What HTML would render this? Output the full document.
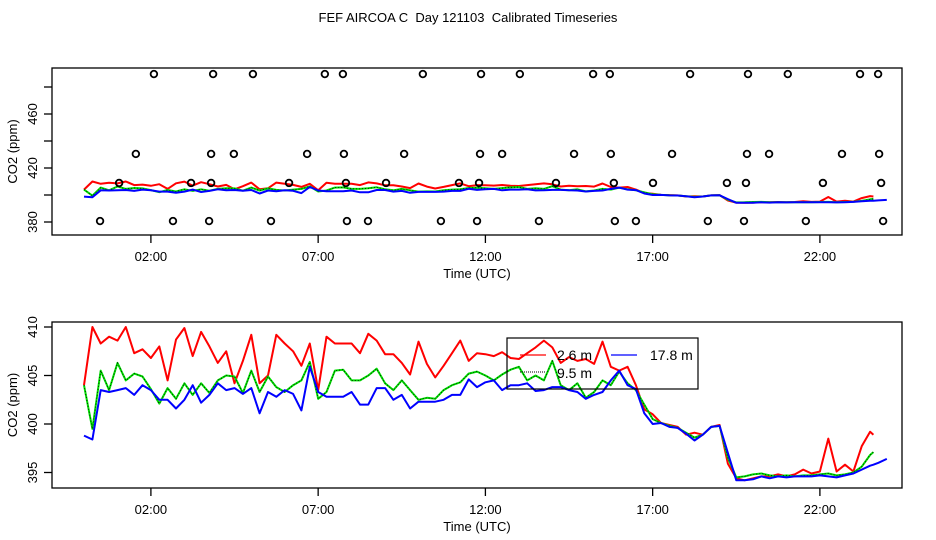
<!DOCTYPE html>
<html><head><meta charset="utf-8"><style>
html,body{margin:0;padding:0;background:#fff;}
svg{display:block;font-family:"Liberation Sans",sans-serif;}
</style></head><body>
<svg id="chart" width="936" height="540" viewBox="0 0 936 540">
<text x="468" y="22" text-anchor="middle" font-size="13" style="white-space:pre">FEF AIRCOA C  Day 121103  Calibrated Timeseries</text>
<g id="topPanel"></g>
<g id="botPanel"></g>
</svg>
<script>
const times = [0,0.25,0.5,0.75,1,1.25,1.5,1.75,2,2.25,2.5,2.75,3,3.25,3.5,3.75,4,4.25,4.5,4.75,5,5.25,5.5,5.75,6,6.25,6.5,6.75,7,7.25,7.5,7.75,8,8.25,8.5,8.75,9,9.25,9.5,9.75,10,10.25,10.5,10.75,11,11.25,11.5,11.75,12,12.25,12.5,12.75,13,13.25,13.5,13.75,14,14.25,14.5,14.75,15,15.25,15.5,15.75,16,16.25,16.5,16.75,17,17.25,17.5,17.75,18,18.25,18.5,18.75,19,19.25,19.5,19.75,20,20.25,20.5,20.75,21,21.25,21.5,21.75,22,22.25,22.5,22.75,23,23.25,23.5,23.6,23.75,24];
const red26 = [404,410,408.3,409,408.6,410,407.3,407.7,406.8,408,404.5,408.7,409.9,407,409.5,408,406.3,407.5,404.2,406.5,409.2,404.2,405,409.2,408.3,407.5,406,408.3,403.5,409,408.3,408.3,408.3,407.3,409.3,408.6,407.2,407.2,406.3,405.1,408.5,406.2,404.8,406,407.3,408.6,406.5,407.3,407.2,407,407.4,406.8,406.7,407.3,407.9,408.6,407.9,406.3,406.9,406.5,406.7,406.2,408.5,405.9,405.5,405.9,404,401.5,401,400.1,399.9,399.7,398.9,399.1,398.9,399.7,399.9,395.9,394.4,394.2,394.4,394.6,394.6,394.8,394.6,394.8,395.3,394.9,395.1,398.5,395.1,395.8,395.1,397.7,399.2,398.9,null,null];
const green95 = [404,399.5,405.5,403.5,406.3,404.5,405.2,404.9,403.6,402.1,403.7,402.6,404.2,403,404.2,403.2,404.5,405,404.9,403.2,405.5,403.3,404.9,403.8,403.3,404,404.5,406.4,402.6,403.3,405.5,405.6,404.5,404.5,405,405.7,404.2,403.5,404.5,403.5,402.5,402.7,402.6,403.5,404,404.3,405.2,405.4,405,404.5,405.1,405.6,405.9,404.5,405,404.5,406.5,404,403.5,404.2,402.7,403.3,404.5,404,405.4,404.2,403.5,402,400.5,400.1,399.8,399.6,399.1,398.6,398.9,399.7,399.8,396.5,394.5,394.6,394.8,394.9,394.7,394.6,394.7,394.6,394.7,394.7,394.8,394.9,394.7,394.8,395,395.6,396.8,397.1,null,null];
const blue178 = [398.8,398.4,403.5,403.3,403.5,403.7,403,404,403.5,402.5,402.5,401.6,402.5,404,402.2,403,404.2,403.5,403.7,403.1,403.7,401.1,403.3,402.8,403.5,403.1,401.4,405.9,403.3,402.8,402.8,402.8,403.3,402,402,403.7,403.7,402.5,403,401.6,402.3,402.3,402.3,402.5,403,403,404.6,403.8,404.3,404.5,403.5,404,404,404.2,403.4,403.5,403.8,403.8,403.5,403.3,402.6,403,403.3,404.5,405.5,404,403.6,401.1,400,400.1,399.7,399.6,399,398.3,398.9,399.7,399.8,397,394.2,394.2,394.3,394.6,394.4,394.6,394.5,394.6,394.6,394.6,394.7,394.6,394.5,394.7,394.9,395.3,395.7,395.8,396,396.4];
const outlierTimes = [2.09,3.86,5.05,7.20,7.74,10.13,11.87,13.03,15.22,15.72,18.12,19.85,21.04,23.20,23.74,1.55,3.80,4.48,6.67,7.77,9.57,11.84,12.50,14.65,15.75,17.58,19.82,20.48,22.66,23.77,1.05,3.20,3.80,6.13,7.83,9.03,11.21,11.81,14.11,15.84,17.01,19.22,19.79,22.09,23.83,0.48,2.66,3.74,5.59,7.86,8.49,10.67,11.75,13.60,15.87,16.50,18.65,19.73,21.58,23.89];
const outlierValues = [489.6,489.6,489.6,489.6,489.6,489.6,489.6,489.6,489.6,489.6,489.6,489.6,489.6,489.6,489.6,430.4,430.4,430.4,430.4,430.4,430.4,430.4,430.4,430.4,430.4,430.4,430.4,430.4,430.4,430.4,408.9,408.9,408.9,408.9,408.9,408.9,408.9,408.9,408.9,408.9,408.9,408.9,408.9,408.9,408.9,380.7,380.7,380.7,380.7,380.7,380.7,380.7,380.7,380.7,380.7,380.7,380.7,380.7,380.7,380.7];
const xTicks = [2,7,12,17,22];
const xTickLabels = ["02:00","07:00","12:00","17:00","22:00"];
const topYTicks = [380,400,420,440,460,480];
const topYLabels = ["380","","420","","460",""];
const botYTicks = [395,400,405,410];
const botYLabels = ["395","400","405","410"];

const NS="http://www.w3.org/2000/svg";
function mk(p,t,a){const e=document.createElementNS(NS,t);for(const k in a)e.setAttribute(k,a[k]);p.appendChild(e);return e;}
const xs = h => 84 + 33.45*h;

function panel(g, box, ys, yTicks, yLabels, nm){
  const fr = mk(g,'rect',{x:box.x0,y:box.y0,width:box.x1-box.x0,height:box.y1-box.y0,fill:'none',stroke:'#000','stroke-width':1.3});
  
  
  xTicks.forEach((t,i)=>{
    const x=xs(t);
    const l=mk(g,'line',{x1:x,x2:x,y1:box.y1,y2:box.y1+8,stroke:'#000','stroke-width':1.3});
    
    
    const tx=mk(g,'text',{x:x,y:box.y1+26,'text-anchor':'middle','font-size':13});
    tx.textContent=xTickLabels[i];
    
    
  });
  yTicks.forEach((t,i)=>{
    const y=ys(t);
    const l=mk(g,'line',{x1:box.x0-8,x2:box.x0,y1:y,y2:y,stroke:'#000','stroke-width':1.3});
    
    
    if(yLabels[i]){
      const tx=mk(g,'text',{x:0,y:0,'text-anchor':'middle','font-size':13,transform:`translate(${box.x0-15},${y}) rotate(-90)`});
      tx.textContent=yLabels[i];
      
      
    }
  });
  const xt=mk(g,'text',{x:(box.x0+box.x1)/2,y:box.y1+43,'text-anchor':'middle','font-size':13});
  xt.textContent='Time (UTC)';
  
  
  const yt=mk(g,'text',{x:0,y:0,'text-anchor':'middle','font-size':13,transform:`translate(17,${(box.y0+box.y1)/2}) rotate(-90)`});
  yt.textContent='CO2 (ppm)';
  
  

  const series=[[red26,'#ff0000','red-2-6m'],[green95,'#00e000','green-9-5m'],[blue178,'#0000ff','blue-17-8m']];
  series.forEach(s=>{
    let d='';let pen=false;
    s[0].forEach((v,i)=>{ if(v===null){pen=false;return;} d+=(pen?'L':'M')+xs(times[i]).toFixed(1)+' '+ys(v).toFixed(1)+' '; pen=true;});
    const p=mk(g,'path',{d:d,fill:'none',stroke:s[1],'stroke-width':2,'stroke-linejoin':'round'});
    
    
    if(s[2]==='green-9-5m'){
      const o=mk(g,'path',{d:d,fill:'none',stroke:'#000','stroke-width':0.8,'stroke-dasharray':'1 2'});
      
      
    }
  });
}

const topG=document.getElementById('topPanel');
const topBox={x0:52,x1:902,y0:68,y1:235};
const ysTop = v => 222 - (v-380)*1.35;
panel(topG, topBox, ysTop, topYTicks, topYLabels, 'top');
outlierTimes.forEach((t,i)=>{
  const c=mk(topG,'circle',{cx:xs(t),cy:ysTop(outlierValues[i]),r:3.3,fill:'none',stroke:'#000','stroke-width':1.8});
  
  
});

const botG=document.getElementById('botPanel');
const botBox={x0:52,x1:902,y0:322,y1:488};
const ysBot = v => 327 + (410-v)*9.7;
panel(botG, botBox, ysBot, botYTicks, botYLabels, 'bottom');

const lg=mk(botG,'g',{});


mk(lg,'rect',{x:507,y:338,width:191,height:51,fill:'none',stroke:'#000','stroke-width':1.2});
const e1=mk(lg,'line',{x1:520,x2:546,y1:355,y2:355,stroke:'#ff0000','stroke-width':1.3});


const t1=mk(lg,'text',{x:557,y:360,'font-size':14});t1.textContent='2.6 m';


const e2=mk(lg,'line',{x1:611,x2:637,y1:355,y2:355,stroke:'#0000ff','stroke-width':1.3});


const t2=mk(lg,'text',{x:650,y:360,'font-size':14});t2.textContent='17.8 m';


const e3=mk(lg,'line',{x1:520,x2:546,y1:372,y2:372,stroke:'#000','stroke-width':1,'stroke-dasharray':'1 1'});


const t3=mk(lg,'text',{x:557,y:378,'font-size':14});t3.textContent='9.5 m';


</script>
</body></html>
